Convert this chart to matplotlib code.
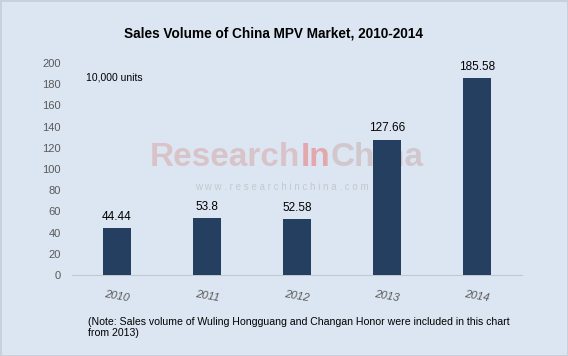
import matplotlib.pyplot as plt

years = ['2010', '2011', '2012', '2013', '2014']
sales = [44.44, 53.8, 52.58, 127.66, 185.58]
labels = ['44.44', '53.8', '52.58', '127.66', '185.58']

bg = '#dce6f2'
fig = plt.figure(figsize=(5.68, 3.56), dpi=100, facecolor=bg,
                 edgecolor='#c8d0da', linewidth=2)
ax = fig.add_axes([0.1268, 0.2275, 0.7922, 0.5955])
ax.set_facecolor(bg)

x = range(len(years))
ax.bar(x, sales, width=0.31, color='#243f60', zorder=3)
for i, v in enumerate(sales):
    ax.text(i, v + 5, labels[i], ha='center', va='bottom', fontsize=8.5,
            color='black', family='Liberation Sans', zorder=4)

ax.set_xlim(-0.5, 4.5)
ax.set_ylim(0, 200)
ax.set_yticks(range(0, 201, 20))
ax.set_xticks(list(x))
ax.set_xticklabels(years, rotation=-10, style='italic', color='#595959',
                   fontsize=8, family='Liberation Sans')
for t in ax.get_yticklabels():
    t.set_color('#595959')
    t.set_fontsize(8)
    t.set_family('Liberation Sans')
ax.tick_params(axis='both', length=0)
ax.tick_params(axis='y', pad=8)
ax.tick_params(axis='x', pad=10)
for s in ['top', 'right', 'left']:
    ax.spines[s].set_visible(False)
ax.spines['bottom'].set_color('#c0c8d0')

ax.text(0.03, 0.93, '10,000 units', transform=ax.transAxes, fontsize=7.5,
        family='Liberation Sans', va='center')

# watermark, behind the bars; pieces placed one after another
parts = [('Research', '#d8c4c8'), ('In', '#e2a8ae'), ('China', '#d0c8cc')]
renderer = fig.canvas.get_renderer()
xpix = 150
for txt, col in parts:
    t = ax.text(xpix / 568, 0.557, txt, transform=fig.transFigure, ha='left',
                va='center', fontsize=24, fontweight='bold', color=col,
                family='Liberation Sans', zorder=1)
    xpix += t.get_window_extent(renderer).width
ax.text(0.497, 0.475, 'w w w . r e s e a r c h i n c h i n a . c o m',
        transform=fig.transFigure, ha='center', va='center', fontsize=7,
        color='#c4c8cc', family='Liberation Sans', zorder=1)

fig.text(0.481, 0.907, 'Sales Volume of China MPV Market, 2010-2014',
         ha='center', va='center', fontsize=9.8, fontweight='bold',
         family='Liberation Sans')
fig.text(0.155, 0.08, '(Note: Sales volume of Wuling Hongguang and Changan Honor were included in this chart\nfrom 2013)',
         ha='left', va='center', fontsize=7.6, family='Liberation Sans',
         linespacing=1.1)

fig.savefig('out.png', dpi=100, facecolor=bg, edgecolor='#c8d0da')
